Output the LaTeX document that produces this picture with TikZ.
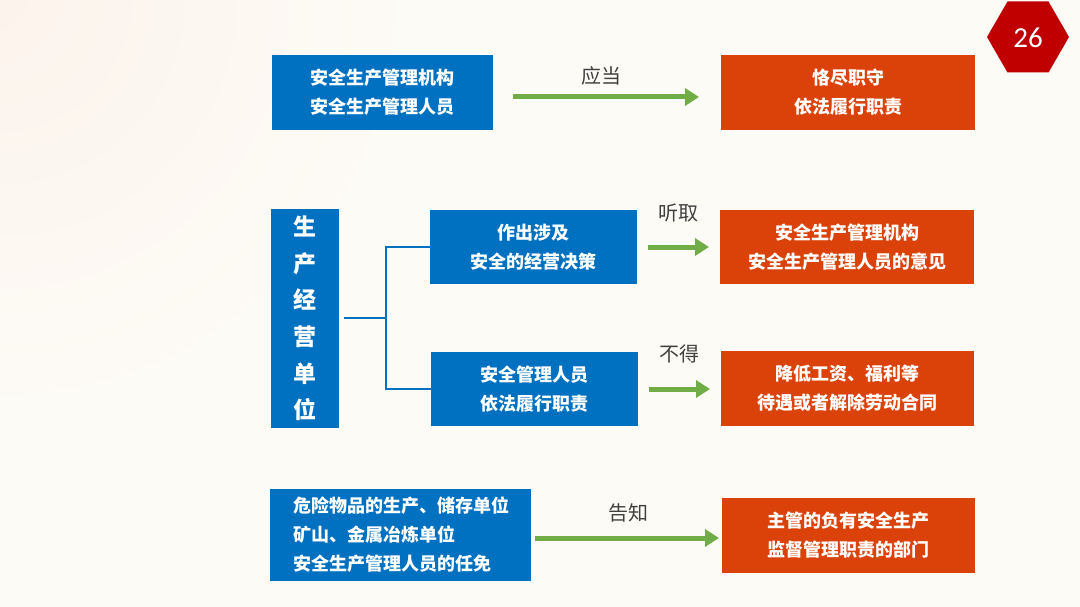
\documentclass[tikz,border=0pt]{standalone}
\usepackage{fontspec}
\setmainfont{Carlito}
\newfontfamily\cjk{Noto Sans CJK SC}
\usetikzlibrary{arrows.meta}
\definecolor{bgc}{RGB}{253,251,246}
\definecolor{bgwarm}{RGB}{252,243,236}
\definecolor{bluebox}{RGB}{0,112,192}
\definecolor{orangebox}{RGB}{218,66,10}
\definecolor{greenarr}{RGB}{112,173,71}
\definecolor{hexred}{RGB}{192,0,0}
\definecolor{labelgray}{RGB}{64,64,64}
\tikzset{
  bluebx/.style={fill=bluebox, draw=none, inner sep=0pt, text=white, align=center,
    font=\cjk\bfseries\fontsize{18}{29}\selectfont},
  orangebx/.style={fill=orangebox, draw=none, inner sep=0pt, text=white, align=center,
    font=\cjk\bfseries\fontsize{18}{29}\selectfont},
  greenarrow/.style={draw=greenarr, line width=5pt, -{Triangle[length=14pt,width=17pt]}},
  bracketline/.style={draw=bluebox, line width=2.5pt},
  arrlabel/.style={text=labelgray, font=\cjk\fontsize{20}{22}\selectfont, inner sep=0pt}
}
\begin{document}
\begin{tikzpicture}[x=1pt,y=-1pt]
\useasboundingbox (0,0) rectangle (1080,607);
\fill[bgc] (0,0) rectangle (1080,607);
\begin{scope}
\clip (0,0) rectangle (1080,607);
\shade[inner color=bgwarm, outer color=bgc] (0,0) circle (420);
\end{scope}

% hexagon
\fill[hexred] (987,37) -- (1007.5,1.5) -- (1048.5,1.5) -- (1069,37) -- (1048.5,72.5) -- (1007.5,72.5) -- cycle;
\node[text=white, font=\fontsize{29}{30}\selectfont, inner sep=0pt] (num) at (1028,38) {26};

% row 1
\node[bluebx, minimum width=221pt, minimum height=75pt] (b1) at (382.5,92.5) {安全生产管理机构\\安全生产管理人员};
\node[orangebx, minimum width=254pt, minimum height=75pt] (o1) at (848,92.5) {恪尽职守\\依法履行职责};
\coordinate (a1s) at (513,97);
\coordinate (a1e) at (699,97);
\draw[greenarrow] (a1s) -- (a1e);
\node[arrlabel] (l1) at (601,76) {应当};

% row 2
\node[bluebx, minimum width=68pt, minimum height=219pt, font=\cjk\bfseries\fontsize{23}{36.6}\selectfont] (unit) at (305,318.5) {生\\产\\经\\营\\单\\位};
\node[bluebx, minimum width=207pt, minimum height=74pt] (b2) at (533.5,247) {作出涉及\\安全的经营决策};
\node[bluebx, minimum width=207pt, minimum height=74pt] (b3) at (534.5,389) {安全管理人员\\依法履行职责};
\node[orangebx, minimum width=254pt, minimum height=74pt] (o2) at (847,247) {安全生产管理机构\\安全生产管理人员的意见};
\node[orangebx, minimum width=253pt, minimum height=75pt] (o3) at (847.5,388.5) {降低工资、福利等\\待遇或者解除劳动合同};
\coordinate (fork) at (386,318);
\draw[bracketline] (unit.east |- fork) ++(5,0) -- (fork);
\draw[bracketline] (b2.west) -| (fork) |- (b3.west);
\coordinate (a2s) at (648,247);
\coordinate (a2e) at (709,247);
\draw[greenarrow] (a2s) -- (a2e);
\node[arrlabel] (l2) at (678,213) {听取};
\coordinate (a3s) at (649,389);
\coordinate (a3e) at (710,389);
\draw[greenarrow] (a3s) -- (a3e);
\node[arrlabel] (l3) at (679,354) {不得};

% row 3
\node[bluebx, minimum width=261pt, minimum height=92pt, align=left, text width=215pt] (b4) at (400.5,535) {危险物品的生产、储存单位\\矿山、金属冶炼单位\\安全生产管理人员的任免};
\node[orangebx, minimum width=253pt, minimum height=75pt] (o4) at (848.5,535.5) {主管的负有安全生产\\监督管理职责的部门};
\coordinate (a4s) at (535,538);
\coordinate (a4e) at (719,538);
\draw[greenarrow] (a4s) -- (a4e);
\node[arrlabel] (l4) at (628,513) {告知};
\end{tikzpicture}
\end{document}
